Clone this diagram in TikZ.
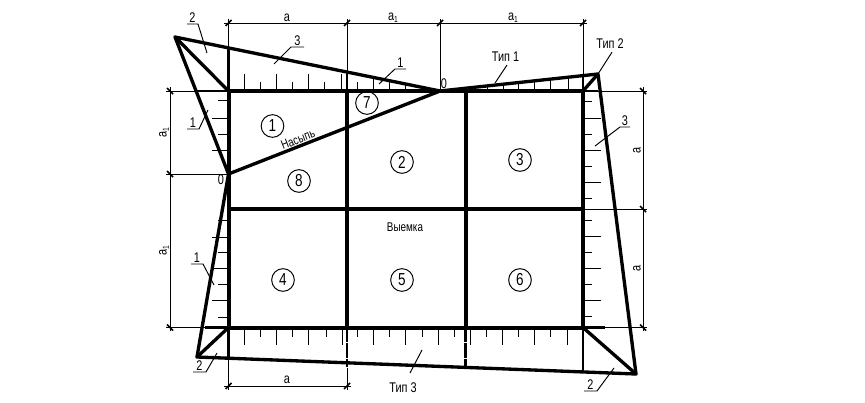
\documentclass[tikz,border=0pt]{standalone}
\usepackage{fontspec}
\setmainfont[FakeStretch=0.78]{Liberation Sans}
\newcommand{\subone}{\raisebox{-1.8pt}{\fontsize{6.5}{7}\selectfont 1}}
\tikzset{
  thin line/.style={line width=0.72pt,line cap=butt},
  grid line/.style={line width=3pt,line cap=butt},
  slope line/.style={line width=2.5pt,line cap=round,line join=round},
  mid line/.style={line width=1.9pt,line cap=butt},
  lab/.style={inner sep=0pt,font=\fontsize{10.5}{11}\selectfont},
  dimlab/.style={inner sep=0pt,font=\fontsize{10.5}{11}\selectfont},
  cell/.style={circle,draw,line width=0.72pt,minimum size=17pt,inner sep=0pt,font=\fontsize{13}{14}\selectfont},
  leader/.style={line width=0.72pt},
  dot/.style={inner sep=0pt,minimum size=0pt}
}
\begin{document}
\begin{tikzpicture}[x=0.75pt,y=-0.75pt]
\useasboundingbox (0,0) rectangle (865,403);
\fill[white] (0,0) rectangle (865,403);
% key points
\coordinate (A) at (228.5,91); \coordinate (B) at (347,91); \coordinate (C) at (465.5,91); \coordinate (D) at (583,91);
\coordinate (E) at (228.5,209); \coordinate (F) at (347,209); \coordinate (G) at (465.5,209); \coordinate (H) at (583,209);
\coordinate (I) at (228.5,327.5); \coordinate (J) at (347,327.5); \coordinate (K) at (465.5,327.5); \coordinate (L) at (583,327.5);
\coordinate (TL) at (175,37); \coordinate (TR) at (598,74); \coordinate (BL) at (197,357); \coordinate (BR) at (636,374);
\coordinate (Z1) at (440,91); \coordinate (Z2) at (228.5,174);
% hachures
\begin{scope}
\clip (228,91) -- (440,91) -- (228,47.8) -- cycle;
\foreach \x in {244,276,308,341.5,373,405}{\draw[thin line] (\x,91) -- (\x,74);}
\foreach \x in {260,292,324,357,389,421}{\draw[thin line] (\x,91) -- (\x,82);}
\end{scope}
\begin{scope}
\clip (440,91) -- (598,74) -- (598,91) -- cycle;
\foreach \x in {487,503,518,534,550,568}{\draw[thin line] (\x,91) -- (\x,70);}
\end{scope}
\foreach \y in {118,150,237,268,300}{\draw[thin line] (228,\y) -- (212,\y);}
\foreach \y in {100,134,220,252,284,317}{\draw[thin line] (228,\y) -- (218,\y);}
\foreach \y in {118,150,182,236,268,300}{\draw[thin line] (583,\y) -- (601,\y);}
\foreach \y in {101,134,166,198,220,252,284,316}{\draw[thin line] (583,\y) -- (592,\y);}
\foreach \x in {244,276,308,342,373,405,438,470,502,534,567}{\draw[thin line] (\x,327) -- (\x,345);}
\foreach \x in {260,292,326,357,389,422,454,486,518,550}{\draw[thin line] (\x,327) -- (\x,337);}
% extension lines
\draw[thin line] (228.5,19) -- (228.5,47);
\draw[thin line] (347,19) -- (347,72);
\draw[thin line] (440,19) -- (440,91);
\draw[thin line] (583,19) -- (583,76);
\draw[thin line] (166,91) -- (195,91);
\draw[thin line] (166,174) -- (Z2);
\draw[thin line] (166,327.5) -- (205,327.5);
\draw[thin line] (598,91) -- (647,91);
\draw[thin line] (583,209) -- (647,209);
\draw[thin line] (590,327.5) -- (647,327.5);
\draw[thin line] (228.5,357) -- (228.5,390);
\draw[thin line] (347,368) -- (347,390);
% dimension lines
\draw[thin line] (224,23) -- (587,23);
\draw[thin line] (170,87) -- (170,331);
\draw[thin line] (643,87) -- (643,331);
\draw[thin line] (224,386) -- (351,386);
\foreach \x in {228.5,347,440,583}{\draw[line width=1.1pt] (\x-3,26) -- (\x+3,20);}
\foreach \y in {91,174,327.5}{\draw[line width=1.1pt] (167,\y-3) -- (173,\y+3);}
\foreach \y in {91,209,327.5}{\draw[line width=1.1pt] (640,\y-3) -- (646,\y+3);}
\foreach \x in {228.5,347}{\draw[line width=1.1pt] (\x-3,389) -- (\x+3,383);}
% mid lines
\draw[mid line] (195,91) -- (A);
\draw[mid line] (205,327.5) -- (I);
\draw[mid line] (583,91) -- (598,91);
\draw[mid line] (L) -- (605,327.5);
\draw[mid line] (L) -- (583,372);
\draw[mid line,dash pattern=on 11pt off 0.8pt] (J) -- (347,367);
\draw[mid line,dash pattern=on 11pt off 0.8pt] (K) -- (465.5,368);
% grid
\draw[grid line] (A) -- (D);
\draw[grid line] (E) -- (H);
\draw[grid line] (I) -- (L);
\draw[grid line] (A) -- (I);
\draw[grid line] (B) -- (J);
\draw[grid line] (C) -- (K);
\draw[grid line] (D) -- (L);
\draw[mid line] (228.5,48) -- (A);
\draw[mid line] (I) -- (228.5,357.5);
\draw[mid line] (B) -- (347,72);
\draw[mid line] (D) -- (583,76);
% outer slopes
\draw[slope line] (Z1) -- (TL) -- (Z2) -- (BL) -- (BR) -- (TR) -- cycle;
\draw[slope line] (Z2) -- (Z1);
\draw[slope line] (TL) -- (A);
\draw[slope line] (BL) -- (I);
\draw[slope line] (D) -- (TR);
\draw[slope line] (L) -- (BR);
% cell numbers
\node[cell] (c1) at (272.5,126) {1};
\node[cell] (c7) at (367,103) {7};
\node[cell] (c2) at (402,162) {2};
\node[cell] (c8) at (299,181) {8};
\node[cell] (c3) at (520,160) {3};
\node[cell] (c4) at (283,280) {4};
\node[cell] (c5) at (402,280) {5};
\node[cell] (c6) at (520,280) {6};
% dimension labels
\node[dimlab] (d1) at (287,18) {а};
\node[dimlab] (d2) at (393,18) {а\subone};
\node[dimlab] (d3) at (513,18) {а\subone};
\node[dimlab,rotate=90] (d4) at (164,133) {а\subone};
\node[dimlab,rotate=90] (d5) at (164,251) {а\subone};
\node[dimlab,rotate=90] (d6) at (637,150) {а};
\node[dimlab,rotate=90] (d7) at (637,268) {а};
\node[dimlab] (d8) at (287,380) {а};
\node[dimlab] (z1) at (444,84) {0};
\node[dimlab] (z2) at (221,180) {0};
% texts
\node[lab] (t1) at (505.5,57) {Тип 1};
\node[lab] (t2) at (610,44) {Тип 2};
\node[lab] (t3) at (403,388) {Тип 3};
\node[lab,font=\fontsize{9.5}{10}\selectfont] (v) at (405,227) {Выемка};
\node[lab,font=\fontsize{9.5}{10}\selectfont,rotate=21.4] (n) at (298,139.5) {Насыпь};
% leaders
\node[lab,anchor=south] (l2a) at (192.5,23) {2};
\draw[leader] (187,24) -- (198,24) -- (207,53);
\node[lab,anchor=south] (l3a) at (297.5,46) {3};
\draw[leader] (304,47) -- (291,47) -- (274,64);
\node[lab,anchor=south] (l1a) at (400.5,68) {1};
\draw[leader] (406,69) -- (395,69) -- (379,84);
\node[lab,anchor=south] (l1b) at (193,128) {1};
\draw[leader] (187,129) -- (199,129) -- (208,110);
\node[lab,anchor=south] (l3b) at (625,126) {3};
\draw[leader] (630,127) -- (620,127) -- (595,146);
\node[lab,anchor=south] (l1c) at (197,263) {1};
\draw[leader] (191,264) -- (203,264) -- (214,285);
\node[lab,anchor=south] (l2b) at (199.5,371) {2};
\draw[leader] (193,372) -- (206,372) -- (217,353);
\node[lab,anchor=south] (l2c) at (590.5,390) {2};
\draw[leader] (584,391) -- (597,391) -- (614,368);
\draw[leader] (t1.south) ++(1.5,3) coordinate (t1a) (t1a) -- (495,83);
\draw[leader] (t2.south) ++(2,3) coordinate (t2a) (t2a) -- (TR);
\draw[leader] (422,350) -- (410,373);
\end{tikzpicture}
\end{document}
